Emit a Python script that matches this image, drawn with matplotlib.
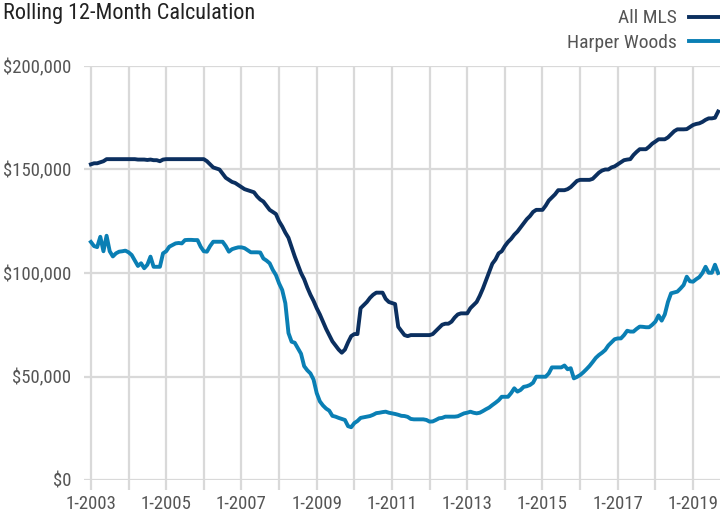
import numpy as np
import matplotlib
matplotlib.use("Agg")
from matplotlib import pyplot as plt
from matplotlib import font_manager
from matplotlib.ticker import FuncFormatter

# monthly values, Jan 2003 .. Sep 2019, in thousands of dollars
all_mls = [
    152.5, 153, 153, 153.5, 154, 155, 155, 155, 155, 155, 155, 155,
    155, 155, 155, 154.8, 154.8, 154.8, 154.6, 154.8, 154.5, 154.5, 154, 154.8,
    155, 155, 155, 155, 155, 155, 155, 155, 155, 155, 155, 155,
    155, 154, 152.5, 151, 150.5, 150, 148, 146, 145, 144, 143.5, 142.5,
    141.5, 140.5, 140, 139.5, 139, 137, 135.5, 134.5, 132.5, 130.5, 129.5, 128.5,
    125, 122.5, 119.5, 117, 112.5, 108, 104, 100, 97, 93, 89.5, 86.5,
    83, 80, 76.5, 73, 70, 67, 65, 63, 61.5, 63, 66.5, 69.5,
    70.5, 70.5, 83, 84.5, 86, 88, 89.5, 90.5, 90.5, 90.5, 87.5, 86,
    85.5, 85, 74, 72, 70, 69.5, 70, 70, 70, 70, 70, 70,
    70, 70.5, 72, 73.5, 75, 75.5, 75.5, 76.5, 78.5, 80, 80.5, 80.5,
    80.5, 83, 84.5, 86, 89, 92.5, 96.5, 100.5, 104.5, 106.5, 109.5, 110.5,
    113, 115, 116.5, 118.5, 120, 122, 124, 126, 127.5, 129.5, 130.5, 130.5,
    130.5, 132.5, 135, 136.5, 138, 140, 140, 140, 140.5, 141.5, 143, 144.5,
    145, 145, 145, 145, 145.5, 147, 148.5, 149.5, 150, 150, 151, 151.5,
    152.5, 153.5, 154.5, 154.8, 155, 157, 158.5, 159.8, 159.8, 159.8, 161, 162.5,
    163.5, 164.6, 164.6, 164.6, 165.5, 167, 168.5, 169.4, 169.4, 169.4, 169.5, 170.5,
    171.5, 172, 172.3, 173, 174, 174.7, 174.7, 175, 178,
]

harper_woods = [
    115, 113, 112.5, 117.5, 110.5, 118, 110.5, 108, 109.5, 110.3, 110.5, 110.8,
    110, 108.7, 106, 103.4, 104.7, 102.3, 104, 107.9, 103, 103, 103, 109.5,
    110.5, 112.7, 113.5, 114.3, 114.5, 114.3, 115.9, 116, 116, 115.9, 115.9, 112.7,
    110.5, 110.3, 113, 115.1, 115.1, 115.1, 115.1, 113, 110.3, 111.5, 112, 112.4,
    112.4, 112, 111, 110, 110, 110, 109.9, 107, 106, 104.7, 101.5, 99,
    95, 91.8, 85.4, 71, 66.8, 66.3, 63.6, 61, 55, 53, 51.5, 48.5,
    42, 38, 36, 34.5, 33.5, 31, 30.6, 30, 29.5, 29, 26, 25.5,
    27.5, 28.5, 30, 30.3, 30.6, 30.9, 31.5, 32.3, 32.5, 32.8, 33, 32.5,
    32.2, 31.9, 31.5, 31, 30.9, 30.5, 29.5, 29.3, 29.3, 29.3, 29.3, 29,
    28.2, 28.3, 29, 29.8, 30, 30.6, 30.6, 30.6, 30.6, 30.8, 31.5, 32.2,
    32.5, 33, 32.5, 32.2, 32.5, 33.3, 34.2, 35, 36.2, 37.3, 38.5, 40.2,
    40.2, 40.2, 42, 44.3, 42.7, 43.5, 45, 45.3, 45.9, 47, 49.9, 49.9,
    49.9, 49.9, 51.5, 54.4, 54.4, 54.4, 54.4, 55.3, 53.5, 54, 49.1, 49.8,
    50.7, 52, 53.5, 55.1, 57, 59, 60.4, 61.5, 62.8, 65, 66.5, 68,
    68.4, 68.4, 70, 72.1, 71.7, 71.7, 73, 74.1, 74, 73.8, 73.8, 75,
    76.5, 79.5, 77, 80, 86, 90.2, 90.6, 91, 92.5, 94.2, 98.2, 96,
    95.8, 97, 98, 100, 103, 100.1, 100.1, 104, 100,
]

years = list(range(2003, 2020))
y_ticks = [0, 50000, 100000, 150000, 200000]

# pick a narrow sans if there is one
names = {f.name for f in font_manager.fontManager.ttflist}
family = "DejaVu Sans"
for cand in ["Liberation Sans Narrow", "Roboto Condensed", "Liberation Sans"]:
    if cand in names:
        family = cand
        break
plt.rcParams["font.family"] = [family, "DejaVu Sans"]

navy = "#0b2f5f"
blue = "#0a7fb4"
grid_c = "#d9d9d9"
text_c = "#555555"

fig = plt.figure(figsize=(7.2, 5.15), dpi=100)
ax = fig.add_axes([84 / 720, 1 - 480 / 515, 636 / 720, 414 / 515])

x = np.arange(len(all_mls))
ax.plot(x, np.array(all_mls) * 1000, color=navy, lw=2.8, label="All MLS",
        solid_joinstyle="round", zorder=3)
ax.plot(x, np.array(harper_woods) * 1000, color=blue, lw=2.8, label="Harper Woods",
        solid_joinstyle="round", zorder=3)

ax.set_ylim(0, 200000)
ax.set_xlim(-2.2, 200.6)

ax.set_yticks(y_ticks)
ax.yaxis.set_major_formatter(FuncFormatter(lambda v, p: "${:,.0f}".format(v)))
xt = [12 * i for i in range(len(years))]
ax.set_xticks(xt)
ax.set_xticklabels([("1-%d" % yr) if i % 2 == 0 else "" for i, yr in enumerate(years)])

ax.grid(True, color=grid_c, lw=1.6, zorder=0)
ax.set_axisbelow(True)
for s in ax.spines.values():
    s.set_visible(False)
ax.tick_params(axis="y", length=0, pad=9, labelsize=13.5, labelcolor=text_c)
ax.tick_params(axis="x", length=7, width=1.6, color=grid_c, pad=4, labelsize=13.5,
               labelcolor=text_c)

fig.text(3 / 720, 1 - 13 / 515, "Rolling 12-Month Calculation", fontsize=16,
         color="#222222", ha="left", va="center")

leg = ax.legend(loc="lower right", bbox_to_anchor=(1.0, 1.034), frameon=False,
                markerfirst=False, fontsize=14, handlelength=1.6,
                handletextpad=0.6, labelspacing=0.34, borderaxespad=0.0,
                borderpad=0.0)
for t in leg.get_texts():
    t.set_color(text_c)
for h in leg.get_lines():
    h.set_linewidth(2.8)

fig.savefig("out.png", dpi=100)
